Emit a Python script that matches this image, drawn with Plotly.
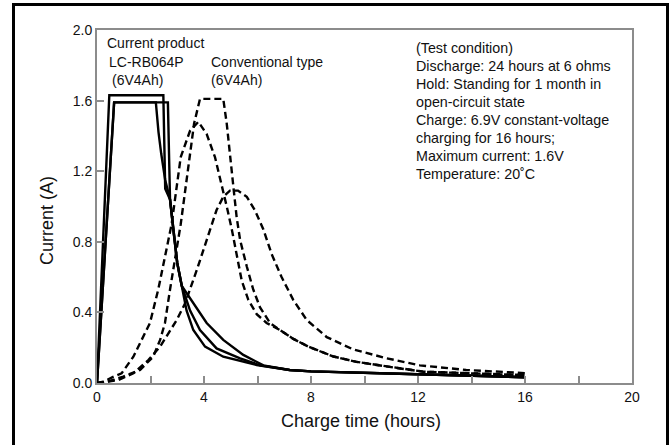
import plotly.graph_objects as go

# ---- data ----
# Current product LC-RB064P (solid)
cur1_x = [0, 0.46, 2.48, 2.55, 2.73, 2.85, 3.0, 3.17, 3.6, 4.1, 4.72, 5.47, 6.22, 7.2, 8, 10.6, 13, 16]
cur1_y = [0, 1.63, 1.63, 1.10, 1.04, 0.87, 0.68, 0.55, 0.45, 0.34, 0.244, 0.159, 0.10, 0.074, 0.066, 0.055, 0.044, 0.033]

cur2_x = [0, 0.64, 2.65, 2.7, 2.73, 2.85, 3.0, 3.17, 3.48, 3.85, 4.47, 5.35, 6.1, 7.2, 8, 10.6, 13, 16]
cur2_y = [0, 1.59, 1.59, 1.10, 1.04, 0.87, 0.68, 0.55, 0.41, 0.30, 0.196, 0.14, 0.10, 0.074, 0.066, 0.055, 0.044, 0.033]

cur3_x = [0, 0.64, 2.2, 2.3, 2.4, 2.55, 2.73, 2.85, 3.0, 3.17, 3.35, 3.6, 4.04, 4.72, 5.97, 7.2, 8, 10.6, 13, 16]
cur3_y = [0, 1.59, 1.59, 1.42, 1.30, 1.15, 1.04, 0.87, 0.68, 0.55, 0.41, 0.30, 0.206, 0.149, 0.102, 0.074, 0.066, 0.055, 0.044, 0.033]

# Conventional type (dashed)
conv1_x = [0, 0.24, 0.6, 0.92, 1.36, 1.98, 2.29, 2.79, 3.13, 3.48, 3.79, 4.1, 4.41, 4.66, 4.85, 5.04, 5.22,
           5.41, 5.66, 5.97, 6.34, 6.84, 7.34, 7.9, 8.84, 9.7, 11.2, 12.2, 13.94, 16]
conv1_y = [0, 0.007, 0.035, 0.055, 0.149, 0.34, 0.53, 0.90, 1.28, 1.43, 1.48, 1.41, 1.28, 1.13, 1.00, 0.87, 0.72,
           0.58, 0.47, 0.39, 0.34, 0.30, 0.25, 0.206, 0.15, 0.12, 0.085, 0.064, 0.055, 0.045]

conv2_x = [0, 0.4, 0.98, 1.61, 2.1, 2.36, 2.54, 2.73, 3.13, 3.48, 3.63, 3.85, 4.72, 4.85, 4.97, 5.1, 5.22, 5.35,
           5.6, 5.84, 6.09, 6.47, 6.84, 7.34, 7.9, 8.84, 9.7, 11.2, 12.2, 13.94, 16]
conv2_y = [0, 0.007, 0.036, 0.074, 0.149, 0.244, 0.34, 0.53, 0.90, 1.28, 1.47, 1.61, 1.61, 1.47, 1.28, 1.11, 0.94, 0.81,
           0.66, 0.53, 0.43, 0.34, 0.30, 0.25, 0.206, 0.15, 0.12, 0.085, 0.064, 0.055, 0.045]

conv3_x = [0, 0.8, 1.36, 1.92, 2.36, 2.67, 2.98, 3.29, 3.48, 3.73, 3.97, 4.22, 4.47, 4.72, 4.97, 5.27, 5.6,
           5.9, 6.22, 6.53, 6.9, 7.34, 7.84, 8.59, 9.58, 10.83, 12.07, 13.8, 15.56, 16]
conv3_y = [0, 0.017, 0.055, 0.13, 0.206, 0.28, 0.357, 0.45, 0.53, 0.64, 0.75, 0.87, 0.98, 1.055, 1.09, 1.09, 1.055,
           0.98, 0.87, 0.73, 0.60, 0.47, 0.357, 0.26, 0.19, 0.14, 0.10, 0.074, 0.058, 0.056]

x_ticks = [0, 4, 8, 12, 16, 20]
y_ticks = [0.0, 0.4, 0.8, 1.2, 1.6, 2.0]
y_tick_labels = ["0.0", "0.4", "0.8", "1.2", "1.6", "2.0"]

label_current = ["Current product", "LC-RB064P", "(6V4Ah)"]
label_conv = ["Conventional type", "(6V4Ah)"]
test_condition = [
    "(Test condition)",
    "Discharge: 24 hours at 6 ohms",
    "Hold: Standing for 1 month in",
    "open-circuit state",
    "Charge: 6.9V constant-voltage",
    "charging for 16 hours;",
    "Maximum current: 1.6V",
    "Temperature: 20˚C",
]

# ---- layout geometry (pixels) ----
W, H = 670, 445
L, R, T, B = 97, 632, 30, 383
FONT = "Liberation Sans, Arial, sans-serif"
GRAY = "#8c8c8c"


def px(xp):
    return (xp - L) / (R - L)


def py(yp):
    return (B - yp) / (B - T)


fig = go.Figure()

for xs, ys in [(cur1_x, cur1_y), (cur2_x, cur2_y), (cur3_x, cur3_y)]:
    fig.add_trace(go.Scatter(x=xs, y=ys, mode="lines",
                             line=dict(color="black", width=2.4), showlegend=False,
                             hoverinfo="skip"))

for xs, ys in [(conv1_x, conv1_y), (conv2_x, conv2_y), (conv3_x, conv3_y)]:
    fig.add_trace(go.Scatter(x=xs, y=ys, mode="lines",
                             line=dict(color="black", width=2.4, dash="7px,4px"),
                             showlegend=False, hoverinfo="skip"))

annotations = []
# curve labels
cur_pos = [(105, 43), (107, 62), (110, 80)]
for text, (xp, yp) in zip(label_current, cur_pos):
    annotations.append(dict(x=px(xp), y=py(yp), xref="paper", yref="paper", text=text,
                            showarrow=False, xanchor="left", yanchor="middle",
                            font=dict(size=14, color="#111", family=FONT)))
conv_pos = [(209, 62), (209, 80)]
for text, (xp, yp) in zip(label_conv, conv_pos):
    annotations.append(dict(x=px(xp), y=py(yp), xref="paper", yref="paper", text=text,
                            showarrow=False, xanchor="left", yanchor="middle",
                            font=dict(size=14, color="#111", family=FONT)))
for i, text in enumerate(test_condition):
    annotations.append(dict(x=px(414), y=py(48 + 18 * i), xref="paper", yref="paper", text=text,
                            showarrow=False, xanchor="left", yanchor="middle",
                            font=dict(size=14.3, color="#111", family=FONT)))

# axis titles
annotations.append(dict(x=px(361), y=py(421), xref="paper", yref="paper",
                        text="Charge time (hours)", showarrow=False,
                        xanchor="center", yanchor="middle",
                        font=dict(size=18, color="#111", family=FONT)))
annotations.append(dict(x=px(47), y=py(221), xref="paper", yref="paper",
                        text="Current (A)", showarrow=False, textangle=-90,
                        xanchor="center", yanchor="middle",
                        font=dict(size=18, color="#111", family=FONT)))

fig.update_layout(
    width=W, height=H,
    margin=dict(l=L, r=W - R, t=T, b=H - B, pad=0),
    paper_bgcolor="white", plot_bgcolor="white",
    showlegend=False,
    annotations=annotations,
    shapes=[dict(type="rect", xref="paper", yref="paper",
                 x0=px(13.5), x1=px(667.5), y0=py(450), y1=py(4.5),
                 line=dict(color="black", width=3), fillcolor="rgba(0,0,0,0)", layer="above")],
    font=dict(family=FONT, color="#111"),
)

fig.update_xaxes(range=[0, 20], tickvals=x_ticks, ticktext=[str(v) for v in x_ticks],
                 ticks="inside", ticklen=7, tickwidth=2, tickcolor=GRAY,
                 minor=dict(dtick=2, tick0=0, ticks="inside", ticklen=7, tickwidth=2, tickcolor=GRAY),
                 showline=True, linecolor=GRAY, linewidth=2, mirror=True,
                 showgrid=False, zeroline=False,
                 tickfont=dict(size=14, family=FONT, color="#111"))
fig.update_yaxes(range=[0, 2.0], tickvals=y_ticks, ticktext=y_tick_labels,
                 ticks="inside", ticklen=7, tickwidth=2, tickcolor=GRAY,
                 showline=True, linecolor=GRAY, linewidth=2, mirror=True,
                 showgrid=False, zeroline=False,
                 tickfont=dict(size=14, family=FONT, color="#111"))

fig.write_html("out.html", config={"displayModeBar": False},
               post_script="document.body.style.margin='0px';document.body.style.overflow='hidden';")
